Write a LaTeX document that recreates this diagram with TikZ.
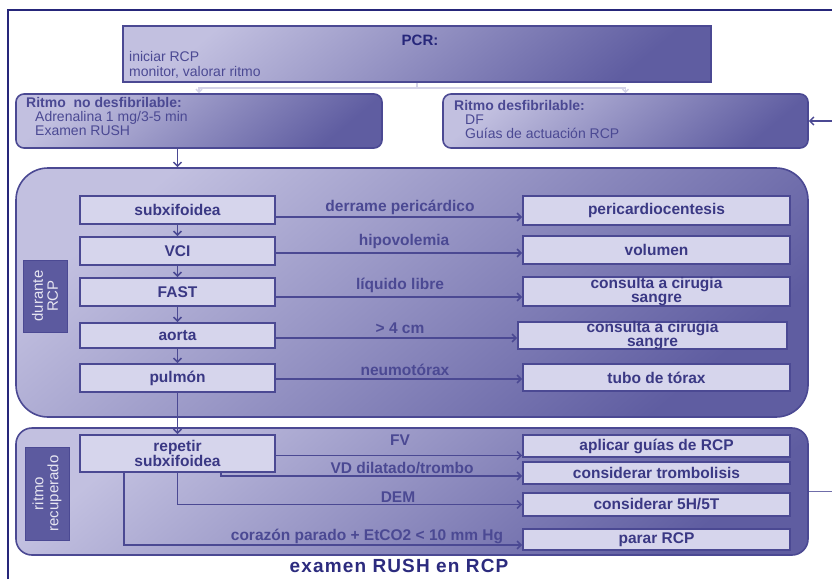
\documentclass[tikz,border=0pt]{standalone}
\usepackage{fontspec}
\setmainfont{Liberation Sans}
\usetikzlibrary{arrows.meta}
\definecolor{framec}{HTML}{26267A}
\definecolor{edgec}{HTML}{4B4993}
\definecolor{lightc}{HTML}{C2C0E0}
\definecolor{darkc}{HTML}{5F5DA1}
\definecolor{cellc}{HTML}{D6D5EC}
\definecolor{inkc}{HTML}{3A3884}
\definecolor{tagc}{HTML}{5C5A9F}
\definecolor{palec}{HTML}{D4D3E8}
\begin{document}
\begin{tikzpicture}[x=1pt,y=-1pt,
 panel/.style={draw=edgec, line width=1.6pt, top color=lightc, bottom color=darkc, shading angle=40, inner sep=0pt},
 cellbox/.style={draw=edgec, line width=1.8pt, fill=cellc, inner sep=0pt, text=inkc, font=\fontsize{15.5}{14}\selectfont\bfseries, align=center},
 tagbox/.style={draw=edgec, line width=1pt, fill=tagc, text=white!85!tagc, font=\fontsize{15}{15}\selectfont, align=center, rotate=90, inner sep=0pt},
 link/.style={draw=edgec, line width=1.5pt, -{Straight Barb[length=4pt,width=8pt]}},
 palelink/.style={draw=palec, line width=1.5pt, -{Straight Barb[length=3pt,width=6pt]}},
 lbl/.style={text=edgec, font=\fontsize{15.5}{15}\selectfont\bfseries, inner sep=0pt},
 paneltext/.style={text=edgec, font=\fontsize{14}{14.3}\selectfont, align=left, inner sep=0pt, anchor=north west},
]
\useasboundingbox (0,0) rectangle (832,579);
\fill[white] (0,0) rectangle (832,579);
% outer frame
\coordinate (fa) at (8,579);
\coordinate (fb) at (8,10);
\coordinate (fc) at (832,10);
\draw[framec, line width=2.5pt] (fa) -- (fb) -- (fc);

% top panels
\node[panel, minimum width=588pt, minimum height=56pt] (pcr) at (417,54) {};
\node[text=framec, font=\fontsize{15}{15}\selectfont\bfseries, inner sep=0pt] (pcrt) at (420,40) {PCR:};
\node[paneltext] (pcrb) at (129,51.5) {iniciar RCP\\monitor, valorar ritmo};

\node[panel, rounded corners=8pt, minimum width=366pt, minimum height=54pt] (nodesf) at (199,121) {};
\node[paneltext] (nodesft) at (26,97) {\textbf{Ritmo\ \ no desfibrilable:}\\\hspace*{9pt}Adrenalina 1 mg/3-5 min\\\hspace*{9pt}Examen RUSH};

\node[panel, rounded corners=8pt, minimum width=365pt, minimum height=54pt] (desf) at (625.5,121) {};
\node[paneltext] (desft) at (454,100) {\textbf{Ritmo desfibrilable:}\\\hspace*{11pt}DF\\\hspace*{11pt}Guías de actuación RCP};

% branches from PCR
\coordinate (br) at (pcr.south |- 0,88);
\draw[palec, line width=1.5pt] (pcr.south) -- (br);
\draw[palelink] (br) -| (nodesf.north);
\draw[palelink] (br) -| (desf.north);

% right-side incoming arrow
\coordinate (rin) at (832,121);
\draw[link] (rin) -- (desf.east);

% big panel
\node[panel, rounded corners=32pt, minimum width=792pt, minimum height=249pt] (big) at (412,292.5) {};
\node[tagbox, minimum width=72pt, minimum height=44pt] (durante) at (45,296) {durante\\RCP};

% bottom panel
\node[panel, rounded corners=16pt, minimum width=792pt, minimum height=127pt] (bot) at (412,491.5) {};
\node[tagbox, minimum width=93pt, minimum height=44pt] (recup) at (47,493.5) {ritmo\\recuperado};
\coordinate (rout) at (832,491.5);
\draw[edgec!80!white, line width=1pt] (bot.east) -- (rout);

% left column
\node[cellbox, minimum width=195pt, minimum height=28pt] (subx) at (177.5,210) {subxifoidea};
\node[cellbox, minimum width=195pt, minimum height=28pt] (vci) at (177.5,251) {VCI};
\node[cellbox, minimum width=195pt, minimum height=28pt] (fast) at (177.5,292) {FAST};
\node[cellbox, minimum width=195pt, minimum height=25pt] (aorta) at (177.5,335.5) {aorta};
\node[cellbox, minimum width=195pt, minimum height=28pt] (pulmon) at (177.5,378) {pulmón};

% right column
\node[cellbox, minimum width=267pt, minimum height=29pt] (peri) at (656.5,210.5) {pericardiocentesis};
\node[cellbox, minimum width=267pt, minimum height=28pt] (vol) at (656.5,250) {volumen};
\node[cellbox, minimum width=267pt, minimum height=29pt, text height=0pt, text depth=0pt] (cir1) at (656.5,291.5) {\raisebox{-4pt}{\begin{tabular}{@{}c@{}}consulta a cirugia\\sangre\end{tabular}}};
\node[cellbox, minimum width=269pt, minimum height=27pt, text height=0pt, text depth=0pt] (cir2) at (652.5,335.5) {\raisebox{-4pt}{\begin{tabular}{@{}c@{}}consulta a cirugia\\sangre\end{tabular}}};
\node[cellbox, minimum width=267pt, minimum height=27pt] (tubo) at (656.5,377.5) {tubo de tórax};

% vertical chain
\draw[link] (nodesf.south -| subx) -- (big.north -| subx);
\draw[link] (subx) -- (vci);
\draw[link] (vci) -- (fast);
\draw[link] (fast) -- (aorta);
\draw[link] (aorta) -- (pulmon);

% horizontal arrows
\coordinate (a1) at ([yshift=-7pt]subx.east);
\draw[link] (a1) -- (a1 -| peri.west);
\coordinate (a2) at ([yshift=-2pt]vci.east);
\draw[link] (a2) -- (a2 -| vol.west);
\coordinate (a3) at ([yshift=-5pt]fast.east);
\draw[link] (a3) -- (a3 -| cir1.west);
\coordinate (a4) at ([yshift=-2.5pt]aorta.east);
\draw[link] (a4) -- (a4 -| cir2.west);
\coordinate (a5) at ([yshift=-1pt]pulmon.east);
\draw[link] (a5) -- (a5 -| tubo.west);

\node[lbl] (l1) at (400,207) {derrame pericárdico};
\node[lbl] (l2) at (404,241) {hipovolemia};
\node[lbl] (l3) at (400,285.5) {líquido libre};
\node[lbl] (l4) at (400,328) {> 4 cm};
\node[lbl] (l5) at (405,369.5) {neumotórax};

% bottom section
\node[cellbox, minimum width=195pt, minimum height=37pt] (rep) at (177.5,453.5) {repetir\\subxifoidea};
\node[cellbox, minimum width=267pt, minimum height=22pt] (ap) at (656.5,446) {aplicar guías de RCP};
\node[cellbox, minimum width=267pt, minimum height=22pt] (tr) at (656.5,473) {considerar trombolisis};
\node[cellbox, minimum width=267pt, minimum height=23pt] (h5) at (656.5,504.5) {considerar 5H/5T};
\node[cellbox, minimum width=267pt, minimum height=21pt] (pa) at (656.5,539.5) {parar RCP};

\draw[link] (pulmon) -- (rep);

\coordinate (b1) at ([yshift=-2pt]rep.east);
\draw[link] (b1) -- (b1 -| ap.west);
\coordinate (b2s) at ([xshift=43.5pt]rep.south);
\coordinate (b2) at ([yshift=-3pt]tr.west);
\draw[link] (b2s) |- (b2);
\draw[link] (rep.south) |- (h5.west);
\coordinate (b4s) at ([xshift=-53.5pt]rep.south);
\coordinate (b4) at ([yshift=-5.5pt]pa.west);
\draw[link] (b4s) |- (b4);

\node[lbl] (m1) at (400,440) {FV};
\node[lbl] (m2) at (402,468) {VD dilatado/trombo};
\node[lbl] (m3) at (398,497) {DEM};
\node[lbl] (m4) at (367,536.5) {corazón parado + EtCO2 < 10 mm Hg};

\node[text=framec!85!edgec, font=\fontsize{19}{19}\selectfont\bfseries\addfontfeature{LetterSpace=6}, inner sep=0pt] (title) at (399,566) {examen RUSH en RCP};
\end{tikzpicture}
\end{document}
